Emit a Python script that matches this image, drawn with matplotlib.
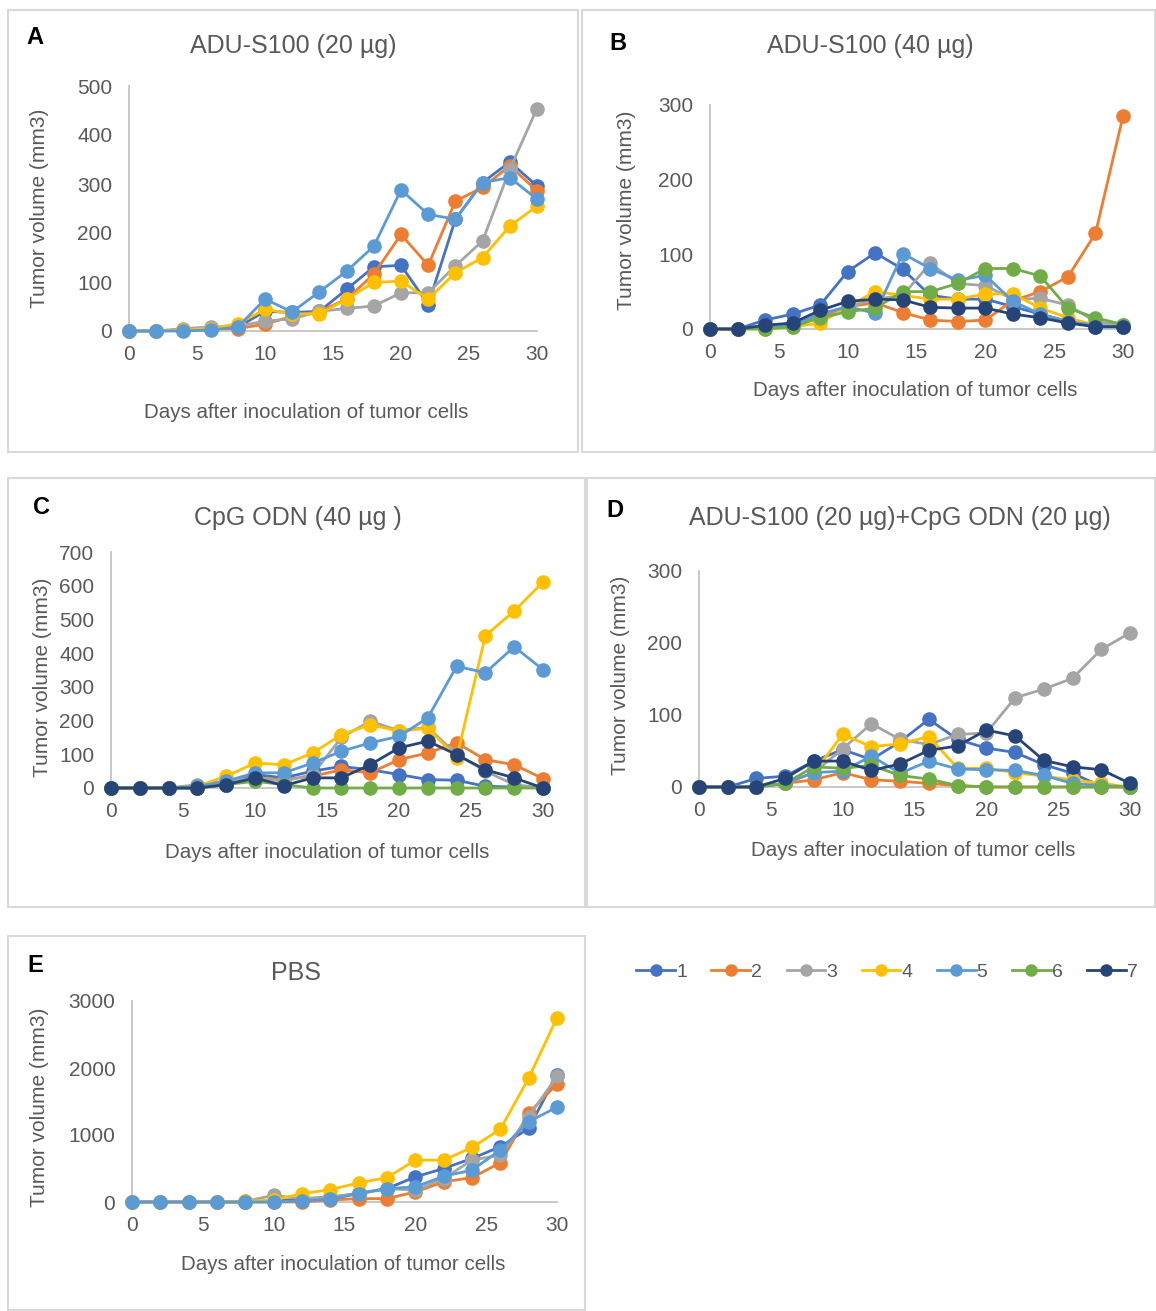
import matplotlib
matplotlib.use("Agg")
import matplotlib.pyplot as plt
from matplotlib.patches import Rectangle

plt.rcParams['font.family'] = ['Liberation Sans', 'DejaVu Sans']

W, H = 1156, 1311

days = [0, 2, 4, 6, 8, 10, 12, 14, 16, 18, 20, 22, 24, 26, 28, 30]
mice = ['1', '2', '3', '4', '5', '6', '7']
colors = ['#4472C4', '#ED7D31', '#A5A5A5', '#FFC000', '#5B9BD5', '#70AD47', '#264478']

# A: ADU-S100 (20 ug)
a1 = [0, 0, 2, 5, 8, 40, 38, 40, 85, 131, 134, 54, 228, 303, 345, 296]
a2 = [0, 0, 2, 4, 5, 14, 30, 40, 65, 116, 197, 134, 265, 293, 337, 286]
a3 = [0, 0, 5, 8, 10, 20, 25, 40, 46, 51, 78, 78, 133, 184, 330, 454]
a4 = [0, 0, 2, 5, 15, 44, 35, 35, 65, 99, 102, 65, 119, 150, 214, 255]
a5 = [0, 0, 0, 2, 8, 65, 39, 80, 122, 173, 288, 238, 228, 303, 313, 269]

# B: ADU-S100 (40 ug)
b1 = [0, 0, 12, 20, 32, 77, 102, 80, 45, 40, 40, 30, 20, 10, 3, 3]
b2 = [0, 0, 3, 5, 15, 30, 35, 22, 12, 10, 12, 38, 50, 70, 128, 285]
b3 = [0, 0, 3, 5, 20, 30, 40, 45, 88, 61, 58, 40, 41, 32, 10, 5]
b4 = [0, 0, 0, 3, 8, 30, 50, 45, 40, 40, 47, 47, 28, 15, 5, 3]
b5 = [0, 0, 3, 5, 20, 30, 21, 101, 81, 65, 72, 37, 20, 10, 5, 3]
b6 = [0, 0, 0, 3, 15, 23, 28, 50, 50, 61, 81, 81, 71, 28, 15, 6]
b7 = [0, 0, 5, 8, 25, 37, 40, 39, 29, 28, 28, 20, 15, 8, 3, 3]

# C: CpG ODN (40 ug)
c1 = [0, 0, 0, 0, 10, 40, 30, 50, 64, 54, 40, 25, 23, 5, 3, 0]
c2 = [0, 0, 0, 0, 10, 30, 25, 35, 54, 45, 84, 104, 134, 84, 69, 28]
c3 = [0, 0, 0, 10, 20, 30, 20, 40, 150, 198, 170, 180, 100, 50, 10, 0]
c4 = [0, 0, 0, 5, 35, 74, 69, 104, 158, 188, 168, 178, 89, 452, 525, 611]
c5 = [0, 0, 0, 5, 20, 45, 45, 74, 109, 134, 153, 208, 361, 342, 419, 351]
c6 = [0, 0, 0, 0, 10, 20, 10, 0, 0, 0, 0, 0, 0, 0, 0, 0]
c7 = [0, 0, 0, 0, 10, 30, 7, 30, 30, 69, 119, 139, 99, 54, 30, 0]

# D: ADU-S100 (20 ug) + CpG ODN (20 ug)
d1 = [0, 0, 12, 15, 36, 52, 38, 63, 94, 66, 54, 48, 31, 19, 1, 0]
d2 = [0, 0, 0, 5, 10, 20, 10, 8, 5, 2, 0, 0, 0, 0, 0, 0]
d3 = [0, 0, 0, 5, 20, 53, 88, 66, 59, 73, 75, 124, 136, 151, 191, 214]
d4 = [0, 0, 0, 5, 20, 73, 56, 60, 70, 26, 26, 20, 15, 10, 5, 0]
d5 = [0, 0, 0, 5, 20, 22, 43, 19, 36, 25, 24, 23, 16, 5, 2, 0]
d6 = [0, 0, 0, 5, 28, 26, 30, 16, 11, 2, 0, 0, 0, 0, 0, 0]
d7 = [0, 0, 0, 12, 36, 36, 23, 32, 51, 57, 79, 71, 37, 28, 24, 5]

# E: PBS
e1 = [0, 0, 0, 0, 0, 20, 40, 70, 130, 200, 375, 500, 650, 825, 1100, 1900]
e2 = [0, 0, 0, 0, 0, 0, 0, 30, 50, 50, 150, 300, 365, 585, 1325, 1765]
e3 = [0, 0, 0, 0, 10, 100, 50, 80, 120, 200, 175, 350, 625, 700, 1275, 1875]
e4 = [0, 0, 0, 0, 10, 30, 125, 185, 285, 365, 625, 625, 815, 1085, 1850, 2750]
e5 = [0, 0, 0, 0, 0, 0, 20, 40, 125, 200, 225, 385, 475, 775, 1200, 1415]

titles = ['ADU-S100 (20 µg)', 'ADU-S100 (40 µg)', 'CpG ODN (40 µg )',
          'ADU-S100 (20 µg)+CpG ODN (20 µg)', 'PBS']
letters = ['A', 'B', 'C', 'D', 'E']

panels = [
    dict(series=[a1, a2, a3, a4, a5], ymax=500, ystep=100,
         ax=(129, 537, 86, 331), box=(8, 578, 10, 452),
         letter=(35, 37), title=(293, 46), xlab=(306, 412), ylab=(40, 208)),
    dict(series=[b1, b2, b3, b4, b5, b6, b7], ymax=300, ystep=100,
         ax=(710, 1123, 105, 329), box=(582, 1155, 10, 452),
         letter=(618, 43), title=(870, 46), xlab=(915, 391), ylab=(627, 210)),
    dict(series=[c1, c2, c3, c4, c5, c6, c7], ymax=700, ystep=100,
         ax=(111, 543, 552, 788), box=(8, 585, 478, 907),
         letter=(42, 507), title=(298, 518), xlab=(327, 852), ylab=(43, 677)),
    dict(series=[d1, d2, d3, d4, d5, d6, d7], ymax=300, ystep=100,
         ax=(699, 1130, 571, 787), box=(587, 1155, 478, 907),
         letter=(615, 510), title=(900, 518), xlab=(913, 850), ylab=(620, 675)),
    dict(series=[e1, e2, e3, e4, e5], ymax=3000, ystep=1000,
         ax=(132, 557, 1001, 1202), box=(8, 585, 936, 1310),
         letter=(35, 965), title=(296, 973), xlab=(343, 1265), ylab=(40, 1107)),
]

fig = plt.figure(figsize=(W / 100, H / 100), dpi=100)

def fx(x):
    return x / W

def fy(y):
    return 1 - y / H

txt = '#595959'

for i, p in enumerate(panels):
    bx0, bx1, by0, by1 = p['box']
    fig.add_artist(Rectangle((fx(bx0), fy(by1)), fx(bx1 - bx0), (by1 - by0) / H,
                             transform=fig.transFigure, fill=False,
                             edgecolor='#D9D9D9', lw=1.5, zorder=0))
    x0, x1, y0, y1 = p['ax']
    ax = fig.add_axes([fx(x0), fy(y1), fx(x1 - x0), (y1 - y0) / H])
    for j, s in enumerate(p['series']):
        ax.plot(days, s, '-o', color=colors[j], lw=2, markersize=9.5,
                clip_on=False, zorder=3 + j)
    ax.set_xlim(0, 30)
    ax.set_ylim(0, p['ymax'])
    ax.set_xticks(range(0, 31, 5))
    ax.set_yticks(range(0, p['ymax'] + 1, p['ystep']))
    for sp in ['top', 'right']:
        ax.spines[sp].set_visible(False)
    for sp in ['left', 'bottom']:
        ax.spines[sp].set_color('#BFBFBF')
        ax.spines[sp].set_linewidth(1.2)
    ax.tick_params(length=0, labelsize=15, colors=txt, pad=10)
    ax.tick_params(axis='y', pad=12)
    ax.set_facecolor('none')

    fig.text(fx(p['letter'][0]), fy(p['letter'][1]), letters[i], fontsize=17,
             fontweight='bold', color='black', ha='center', va='center')
    fig.text(fx(p['title'][0]), fy(p['title'][1]), titles[i], fontsize=18,
             color=txt, ha='center', va='center')
    fig.text(fx(p['xlab'][0]), fy(p['xlab'][1]), 'Days after inoculation of tumor cells',
             fontsize=14.8, color=txt, ha='center', va='center')
    fig.text(fx(p['ylab'][0]), fy(p['ylab'][1]), 'Tumor volume (mm3)', fontsize=15,
             color=txt, ha='center', va='center', rotation=90)

handles = [plt.Line2D([], [], color=c, lw=2, marker='o', markersize=8) for c in colors]
fig.legend(handles, mice, loc='center', bbox_to_anchor=(fx(887), fy(972)), ncol=7,
           frameon=False, fontsize=14, handlelength=2.0, handletextpad=0.05,
           columnspacing=1.25, labelcolor=txt)

fig.savefig('out.png', dpi=100)
